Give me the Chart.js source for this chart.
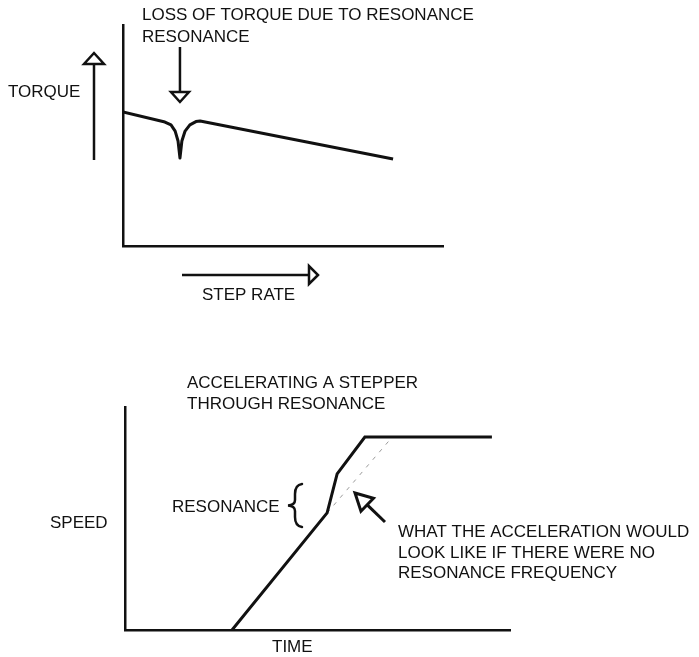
<!DOCTYPE html>
<html>
<head>
<meta charset="utf-8">
<title>Stepper resonance</title>
<script src="https://cdn.jsdelivr.net/npm/chart.js@4.4.1/dist/chart.umd.min.js"></script>
<style>
  html, body { margin: 0; padding: 0; background: #fff; }
  #wrap { position: relative; width: 699px; height: 657px; overflow: hidden; }
  canvas { position: absolute; left: 0; }
  #torque { top: 0; }
  #speed { top: 330px; }
</style>
</head>
<body>
<div id="wrap">
  <canvas id="torque" width="699" height="330" style="width:699px;height:330px"></canvas>
  <canvas id="speed" width="699" height="327" style="width:699px;height:327px"></canvas>
</div>
<script>
// torque vs step rate, with the dip at resonance
const stepRate = [0, 13.1, 15.0, 16.3, 17.2, 17.8, 18.4, 19.4, 20.9, 22.8, 24.1, 84.4];
const torque   = [60.6, 56.1, 54.8, 52.0, 47.5, 39.8, 47.5, 52.0, 54.8, 56.3, 56.6, 39.4];
const dipIndex = 5;

// speed vs time while accelerating through resonance
const time  = [27.8, 52.5, 55.1, 62.3, 95.3];
const speed = [0, 52.5, 70.0, 86.5, 86.5];
// the same ramp without the resonance jump
const timeNoRes  = [52.5, 69.4];
const speedNoRes = [52.5, 86.5];

const INK = '#111';
const FONT = '17px "Liberation Sans", Arial, Helvetica, sans-serif';

function pts(xs, ys) {
  return xs.map((x, i) => ({ x: x, y: ys[i] }));
}

function bareAxes() {
  const axis = {
    type: 'linear',
    min: 0,
    max: 100,
    grid: { display: false, drawTicks: false },
    ticks: { display: false },
    border: { display: true, color: INK, width: 2.5 }
  };
  return { x: Object.assign({}, axis), y: Object.assign({}, axis) };
}

function label(ctx, s, x, y) {
  ctx.fillStyle = INK;
  ctx.font = FONT;
  ctx.textAlign = 'left';
  ctx.textBaseline = 'alphabetic';
  ctx.fillText(s, x, y);
}

// open triangle arrow head, tip at (tx, ty), pointing along angle
function head(ctx, tx, ty, angle, len, half) {
  const bx = tx - Math.cos(angle) * len;
  const by = ty - Math.sin(angle) * len;
  const nx = -Math.sin(angle) * half;
  const ny = Math.cos(angle) * half;
  ctx.beginPath();
  ctx.moveTo(tx, ty);
  ctx.lineTo(bx + nx, by + ny);
  ctx.lineTo(bx - nx, by - ny);
  ctx.closePath();
  ctx.fillStyle = '#fff';
  ctx.fill();
  ctx.stroke();
}

function arrow(ctx, x0, y0, x1, y1, len, half, width) {
  const ang = Math.atan2(y1 - y0, x1 - x0);
  ctx.save();
  ctx.strokeStyle = INK;
  ctx.lineWidth = width;
  ctx.lineJoin = 'miter';
  ctx.beginPath();
  ctx.moveTo(x0, y0);
  ctx.lineTo(x1 - Math.cos(ang) * len, y1 - Math.sin(ang) * len);
  ctx.stroke();
  head(ctx, x1, y1, ang, len, half);
  ctx.restore();
}

const torqueNotes = {
  id: 'torqueNotes',
  afterDraw(chart) {
    const ctx = chart.ctx;
    const xs = chart.scales.x;
    label(ctx, 'LOSS OF TORQUE DUE TO RESONANCE', 142, 20);
    label(ctx, 'RESONANCE', 142, 42);
    label(ctx, 'TORQUE', 8, 97);
    label(ctx, 'STEP RATE', 202, 300);

    const dx = xs.getPixelForValue(stepRate[dipIndex]);
    arrow(ctx, dx, 47, dx, 102, 10, 9, 2.5);
    arrow(ctx, 94, 160, 94, 53, 11, 10, 2.5);
    arrow(ctx, 182, 275, 318, 275, 9, 9, 2.5);
  }
};

const speedNotes = {
  id: 'speedNotes',
  afterDraw(chart) {
    const ctx = chart.ctx;
    label(ctx, 'ACCELERATING A STEPPER', 187, 58);
    label(ctx, 'THROUGH RESONANCE', 187, 79);
    label(ctx, 'SPEED', 50, 198);
    label(ctx, 'TIME', 272, 322);
    label(ctx, 'RESONANCE', 172, 182);
    label(ctx, 'WHAT THE ACCELERATION WOULD', 398, 207);
    label(ctx, 'LOOK LIKE IF THERE WERE NO', 398, 227.5);
    label(ctx, 'RESONANCE FREQUENCY', 398, 248);

    // curly brace beside the resonance jump
    ctx.save();
    ctx.strokeStyle = INK;
    ctx.lineWidth = 2.5;
    ctx.lineCap = 'round';
    ctx.beginPath();
    ctx.moveTo(302, 154);
    ctx.quadraticCurveTo(295, 155, 295, 164);
    ctx.lineTo(295, 170);
    ctx.quadraticCurveTo(295, 175, 288, 175.5);
    ctx.quadraticCurveTo(295, 176, 295, 181);
    ctx.lineTo(295, 187);
    ctx.quadraticCurveTo(295, 196, 302, 197);
    ctx.stroke();
    ctx.restore();

    arrow(ctx, 385, 192, 355, 163, 17, 9, 3);
  }
};

new Chart(document.getElementById('torque'), {
  type: 'line',
  data: {
    datasets: [{
      data: pts(stepRate, torque),
      borderColor: INK,
      borderWidth: 3,
      borderJoinStyle: 'round',
      pointRadius: 0,
      tension: 0
    }]
  },
  options: {
    responsive: false,
    animation: false,
    events: [],
    layout: { padding: { left: 123, top: 25, right: 256, bottom: 84 } },
    scales: bareAxes(),
    plugins: { legend: { display: false }, tooltip: { enabled: false } }
  },
  plugins: [torqueNotes]
});

new Chart(document.getElementById('speed'), {
  type: 'line',
  data: {
    datasets: [{
      data: pts(time, speed),
      borderColor: INK,
      borderWidth: 3,
      borderJoinStyle: 'miter',
      pointRadius: 0,
      tension: 0
    }, {
      data: pts(timeNoRes, speedNoRes),
      borderColor: '#9a9a9a',
      borderWidth: 1,
      borderDash: [4, 6],
      pointRadius: 0,
      tension: 0
    }]
  },
  options: {
    responsive: false,
    animation: false,
    events: [],
    layout: { padding: { left: 125, top: 77, right: 189, bottom: 27 } },
    scales: bareAxes(),
    plugins: { legend: { display: false }, tooltip: { enabled: false } }
  },
  plugins: [speedNotes]
});
</script>
</body>
</html>
